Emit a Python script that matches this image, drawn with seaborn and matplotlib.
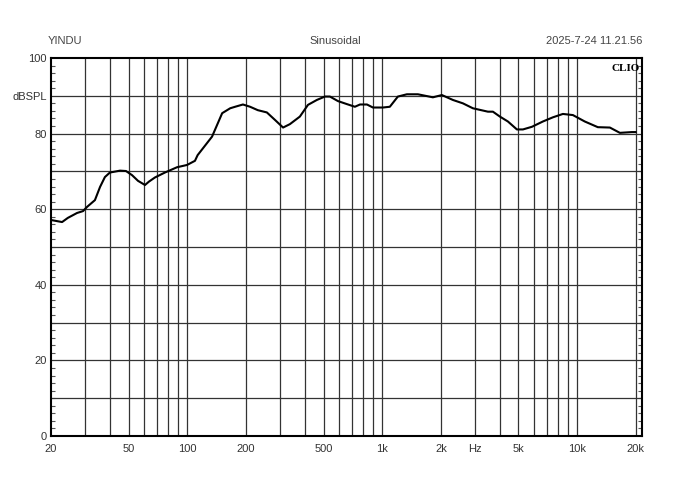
import numpy as np
import pandas as pd
import matplotlib
matplotlib.use("Agg")
import matplotlib.pyplot as plt
import seaborn as sns
from matplotlib.ticker import FixedLocator, NullFormatter, NullLocator

# ---- data ----
freq_hz = [20.2, 22.8, 24.4, 27.2, 29.2, 30.6, 33.6, 35.7, 37.8, 40.1, 45.2, 48.5,
           52.1, 55.9, 60.7, 63.6, 68.3, 76.8, 88.6, 99.7, 109.5, 113, 134, 151,
           166, 176, 193, 210, 230, 256, 282, 310, 336, 378, 416, 462, 508, 539,
           593, 659, 724, 769, 835, 896, 1008, 1094, 1203, 1338, 1524, 1819, 2023,
           2304, 2594, 2918, 3484, 3696, 4014, 4413, 4906, 5268, 5858, 6668, 7500,
           8448, 9506, 10940, 12760, 14714, 16556, 19058, 20000]
spl_db = [57.1, 56.6, 57.7, 59.0, 59.5, 60.6, 62.4, 65.9, 68.5, 69.7, 70.2, 70.1,
          69.0, 67.5, 66.4, 67.3, 68.4, 69.7, 71.1, 71.7, 72.8, 74.3, 79.2, 85.4,
          86.7, 87.1, 87.7, 87.1, 86.2, 85.6, 83.6, 81.6, 82.5, 84.5, 87.6, 88.9,
          89.8, 89.8, 88.6, 87.8, 87.1, 87.7, 87.7, 86.9, 86.9, 87.1, 89.8, 90.4,
          90.4, 89.6, 90.2, 88.9, 88.0, 86.7, 85.8, 85.8, 84.5, 83.2, 81.1, 81.1,
          81.8, 83.2, 84.3, 85.2, 84.9, 83.2, 81.7, 81.6, 80.2, 80.4, 80.4]

grid_freqs = [30, 40, 50, 60, 70, 80, 90, 100, 200, 300, 400, 500, 600, 700, 800,
              900, 1000, 2000, 3000, 4000, 5000, 6000, 7000, 8000, 9000, 10000, 20000]
xtick_vals = [20, 50, 100, 200, 500, 1000, 2000, 3000, 5000, 10000, 20000]
xtick_labels = ["20", "50", "100", "200", "500", "1k", "2k", "Hz", "5k", "10k", "20k"]
ytick_vals = [0, 20, 40, 60, 80, 90, 100]
ytick_labels = ["0", "20", "40", "60", "80", "dBSPL", "100"]

title_left = "YINDU"
title_mid = "Sinusoidal"
title_right = "2025-7-24 11.21.56"

# ---- style ----
sns.set_theme(style="white")
plt.rcParams['font.family'] = ['Liberation Sans', 'DejaVu Sans']

fig = plt.figure(figsize=(6.87, 4.86), dpi=100)
ax = fig.add_axes([51/687, 1-436/486, (642-51)/687, (436-58)/486])

df = pd.DataFrame({"Frequency": freq_hz, "SPL": spl_db})
sns.lineplot(data=df, x="Frequency", y="SPL", ax=ax, color="black", linewidth=1.5,
             zorder=5)

ax.set_xscale("log")
ax.set_xlim(20, 21500)
ax.set_ylim(0, 100)

# grid lines
for f in grid_freqs:
    ax.axvline(f, color="#333333", linewidth=0.9, zorder=1)
for yv in range(10, 100, 10):
    ax.axhline(yv, color="#333333", linewidth=0.9, zorder=1)

ax.xaxis.set_major_locator(FixedLocator(xtick_vals))
ax.set_xticklabels(xtick_labels)
ax.xaxis.set_minor_locator(NullLocator())
ax.xaxis.set_minor_formatter(NullFormatter())
ax.tick_params(axis="x", which="both", length=0, pad=6, labelsize=8, colors="#333333")

ax.yaxis.set_major_locator(FixedLocator(ytick_vals))
ax.set_yticklabels(ytick_labels)
ax.yaxis.set_minor_locator(FixedLocator(list(range(0, 101, 2))))
ax.tick_params(axis="y", which="major", length=0, pad=3, labelsize=8, colors="#333333")
ax.tick_params(axis="y", which="minor", direction="in", length=3, width=0.8,
               left=True, right=True, color="#555555")

ax.set_xlabel("")
ax.set_ylabel("")
for s in ax.spines.values():
    s.set_color("black")
    s.set_linewidth(1.5)
    s.set_visible(True)

fig.text(65/687, 1-41/486, title_left, ha="center", va="center", fontsize=8, color="#444444")
fig.text(335/687, 1-41/486, title_mid, ha="center", va="center", fontsize=8, color="#444444")
fig.text(642/687, 1-41/486, title_right, ha="right", va="center", fontsize=8, color="#444444")
ax.text(0.997, 0.985, "CLIO", transform=ax.transAxes, ha="right", va="top",
        fontsize=8, fontweight="bold", family="Liberation Serif", color="black", zorder=6)

fig.savefig("out.png", dpi=100, facecolor="white")
